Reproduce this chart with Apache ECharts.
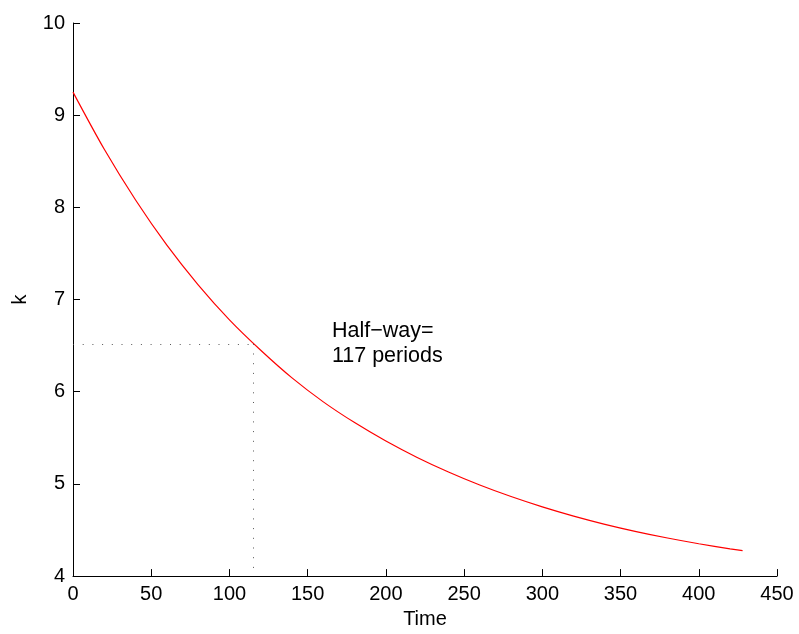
<!DOCTYPE html>
<html>
<head>
<meta charset="utf-8">
<title>k over time</title>
<script src="https://cdn.jsdelivr.net/npm/echarts@6/dist/echarts.min.js"></script>
<style>
	html, body { margin: 0; padding: 0; background: #fff; }
	#main { width: 799px; height: 634px; }
</style>
</head>
<body>
<div id="main"></div>
<script>
	// data
	var times = [0, 20, 40, 60, 80, 100, 120, 140, 160, 180, 200, 220, 240, 260, 280, 300, 320, 340, 360, 380, 400, 420, 428];
	var kValues = [9.25, 8.63, 8.08, 7.59, 7.16, 6.78, 6.45, 6.15, 5.89, 5.665, 5.465, 5.287, 5.129, 4.988, 4.863, 4.751, 4.651, 4.562, 4.483, 4.413, 4.351, 4.296, 4.276];
	var halfWay = [115, 6.52];
	var noteLines = ['Half\u2212way=', '117 periods'];
	var notePos = [165.5, 6.79];
	var xTicks = { min: 0, max: 450, interval: 50 };
	var yTicks = { min: 4, max: 10, interval: 1 };

	var font = 'Liberation Sans, Arial, Helvetica, sans-serif';

	function init() {
		var myChart = echarts.init(document.getElementById('main'), null, { renderer: 'canvas' });

		var points = [];
		for (var i = 0; i < times.length; i++) {
			points.push([times[i], kValues[i]]);
		}

		var axisCommon = {
			axisLine: { show: true, onZero: false, lineStyle: { color: '#000', width: 1 } },
			axisTick: { show: true, inside: true, length: 7, lineStyle: { color: '#000', width: 1 } },
			splitLine: { show: false },
			axisLabel: { color: '#000', fontSize: 20, fontFamily: font },
			nameTextStyle: { color: '#000', fontSize: 20, fontFamily: font }
		};

		var option = {
			animation: false,
			backgroundColor: '#fff',
			grid: { left: 73, right: 22, top: 23, bottom: 56, containLabel: false },
			xAxis: echarts.util.merge({
				type: 'value',
				min: xTicks.min,
				max: xTicks.max,
				interval: xTicks.interval,
				name: 'Time',
				nameLocation: 'middle',
				nameGap: 31,
				axisLabel: { margin: 8 }
			}, axisCommon, false),
			yAxis: echarts.util.merge({
				type: 'value',
				min: yTicks.min,
				max: yTicks.max,
				interval: yTicks.interval,
				name: 'k',
				nameLocation: 'middle',
				nameGap: 43,
				axisLabel: { margin: 8 }
			}, axisCommon, false),
			series: [{
				type: 'line',
				data: points,
				smooth: 0.3,
				showSymbol: false,
				lineStyle: { color: '#ff0000', width: 1.2 },
				markLine: {
					silent: true,
					symbol: 'none',
					label: { show: false },
					lineStyle: { color: '#444', width: 1, type: [1, 8.7], opacity: 0.9 },
					data: [
						[{ coord: [0, halfWay[1]] }, { coord: [halfWay[0], halfWay[1]] }],
						[{ coord: [halfWay[0], halfWay[1]] }, { coord: [halfWay[0], yTicks.min] }]
					]
				}
			}]
		};

		myChart.setOption(option);

		// annotation text placed at data coords
		var p = myChart.convertToPixel({ gridIndex: 0 }, notePos);
		myChart.setOption({
			graphic: [{
				type: 'text',
				x: p[0],
				y: p[1],
				style: {
					text: noteLines.join('\n'),
					fill: '#000',
					fontSize: 21.5,
					fontFamily: font,
					lineHeight: 25,
					align: 'left',
					verticalAlign: 'top'
				}
			}]
		});
	}

	init();
</script>
</body>
</html>
